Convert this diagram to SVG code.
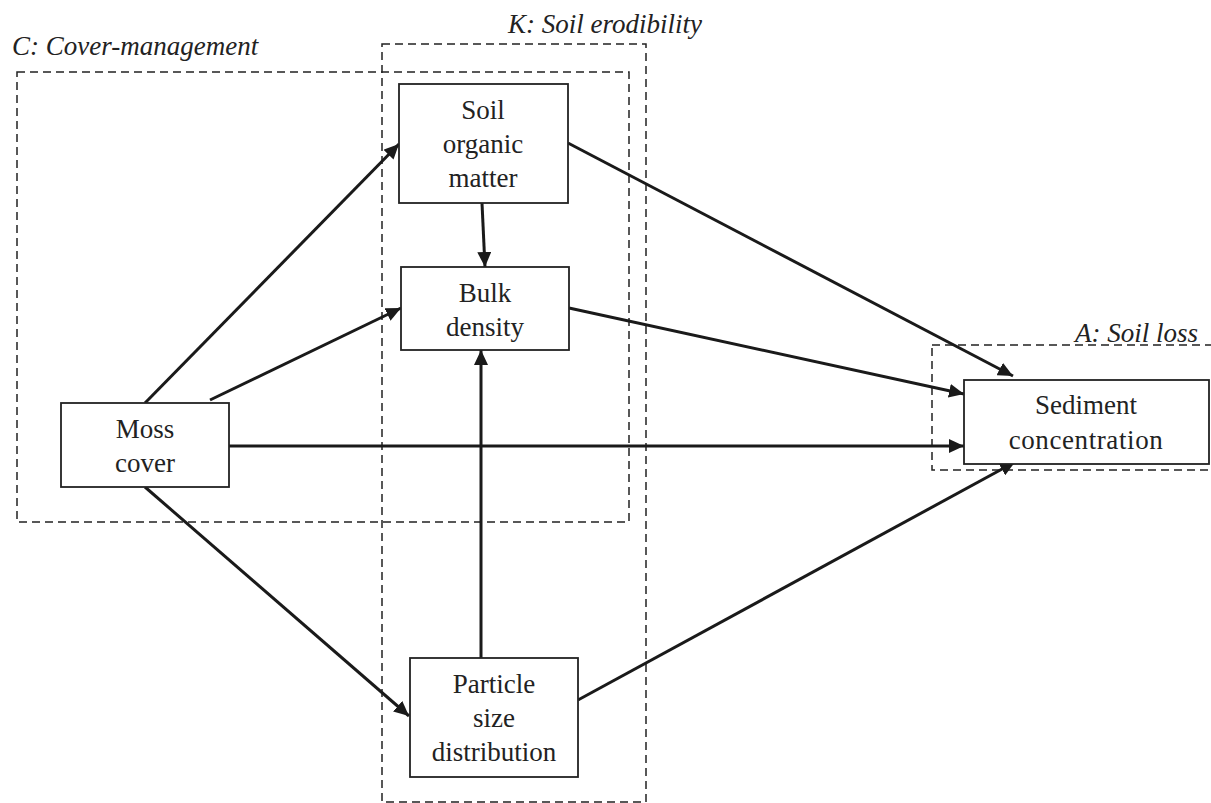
<svg xmlns="http://www.w3.org/2000/svg" width="1211" height="803" viewBox="0 0 1211 803">
<style>
.bg{fill:#fff}
.grp{fill:none;stroke:#222;stroke-width:1.5;stroke-dasharray:8 5}
.node{fill:#fff;stroke:#222;stroke-width:1.8}
.t{font-family:"Liberation Serif","Times New Roman",serif;font-size:27px;fill:#222;text-anchor:middle}
.lab{font-family:"Liberation Serif","Times New Roman",serif;font-size:27px;font-style:italic;fill:#222}
.e{stroke:#1a1a1a;stroke-width:3;fill:none;marker-end:url(#ah)}
</style>
<defs>
<marker id="ah" markerUnits="userSpaceOnUse" markerWidth="16" markerHeight="14" refX="15" refY="7" orient="auto">
<path d="M0,0 L15,7 L0,14 z" fill="#1a1a1a"/>
</marker>
</defs>
<rect class="bg" x="0" y="0" width="1211" height="803"/>
<g id="groups">
<rect class="grp" x="17" y="72" width="612" height="450"/>
<rect class="grp" x="382" y="44" width="264" height="758"/>
<rect class="grp" x="932" y="345" width="290" height="125"/>
<text class="lab" x="12" y="55">C: Cover-management</text>
<text class="lab" x="508" y="33">K: Soil erodibility</text>
<text class="lab" x="1198" y="342" text-anchor="end">A: Soil loss</text>
</g>
<g id="connectors">
<line class="e" x1="145" y1="403" x2="399" y2="144"/>
<line class="e" x1="210" y1="400" x2="401" y2="308"/>
<line class="e" x1="229" y1="446" x2="964" y2="446"/>
<line class="e" x1="145" y1="487" x2="409" y2="716"/>
<line class="e" x1="482" y1="203" x2="485" y2="267"/>
<line class="e" x1="568" y1="143" x2="1013" y2="376"/>
<line class="e" x1="569" y1="308" x2="964" y2="394"/>
<line class="e" x1="481" y1="658" x2="481" y2="350"/>
<line class="e" x1="578" y1="700" x2="1015" y2="462"/>
</g>
<g id="som">
<rect class="node" x="399" y="84" width="169" height="119"/>
<text class="t" x="483" y="119">Soil</text>
<text class="t" x="483" y="153">organic</text>
<text class="t" x="483" y="187">matter</text>
</g>
<g id="bulk">
<rect class="node" x="401" y="267" width="168" height="83"/>
<text class="t" x="485" y="302">Bulk</text>
<text class="t" x="485" y="336">density</text>
</g>
<g id="moss">
<rect class="node" x="61" y="403" width="168" height="84"/>
<text class="t" x="145" y="438">Moss</text>
<text class="t" x="145" y="472">cover</text>
</g>
<g id="sediment">
<rect class="node" x="964" y="380" width="245" height="84"/>
<text class="t" x="1086" y="414">Sediment</text>
<text class="t" x="1086" y="449" letter-spacing="0.6">concentration</text>
</g>
<g id="particle">
<rect class="node" x="410" y="658" width="168" height="119"/>
<text class="t" x="494" y="693">Particle</text>
<text class="t" x="494" y="727">size</text>
<text class="t" x="494" y="761">distribution</text>
</g>
</svg>
